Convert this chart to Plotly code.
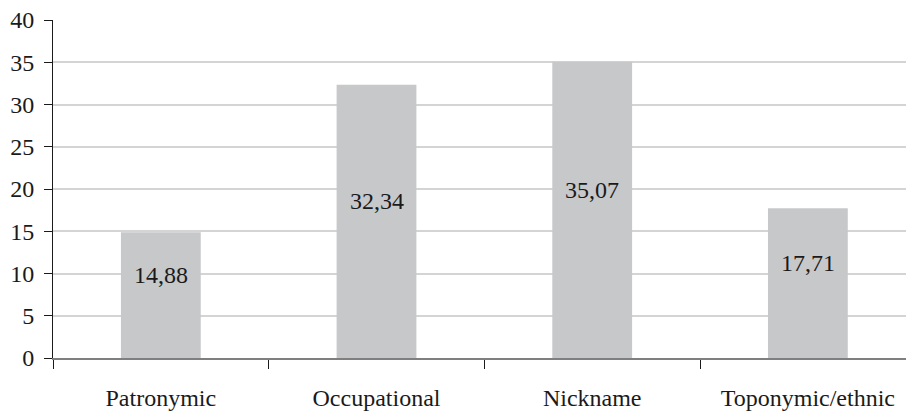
import plotly.graph_objects as go

categories = ["Patronymic", "Occupational", "Nickname", "Toponymic/ethnic"]
values = [14.88, 32.34, 35.07, 17.71]
y_ticks = [0, 5, 10, 15, 20, 25, 30, 35, 40]

font = "Times New Roman"
fs = 24

fig = go.Figure()
fig.add_trace(go.Bar(
    x=categories, y=values, width=0.37,
    marker=dict(color="#c7c8c9", line=dict(width=0)),
    hoverinfo="skip",
))

for c, v in zip(categories, values):
    fig.add_annotation(x=c, y=v / 2, yshift=20, text=f"{v:.2f}".replace(".", ","),
                       showarrow=False, font=dict(family=font, size=fs, color="#1a1a1a"))

fig.update_layout(
    width=906, height=413,
    margin=dict(l=53, r=0, t=20, b=55),
    plot_bgcolor="white", paper_bgcolor="white",
    showlegend=False,
    font=dict(family=font, size=fs, color="#1a1a1a"),
    xaxis=dict(
        type="category", range=[-0.5, 3.455], automargin=False,
        tickson="boundaries", ticks="outside", ticklen=9, tickcolor="#1a1a1a",
        showline=True, linecolor="#7f7f7f", linewidth=1.5,
        showgrid=False, ticklabelstandoff=17,
        tickfont=dict(family=font, size=fs, color="#1a1a1a"),
    ),
    yaxis=dict(
        range=[0, 40], tickvals=y_ticks, ticks="outside", ticklen=8, tickcolor="#1a1a1a",
        showline=True, linecolor="#1a1a1a", linewidth=1, automargin=False,
        showgrid=True, gridcolor="#d4d4d4", gridwidth=1.5, zeroline=False,
        ticklabelstandoff=5,
        tickfont=dict(family=font, size=fs, color="#1a1a1a"),
    ),
)

fig.write_html("out.html", config={"displayModeBar": False},
               post_script="document.body.style.margin='0';")
